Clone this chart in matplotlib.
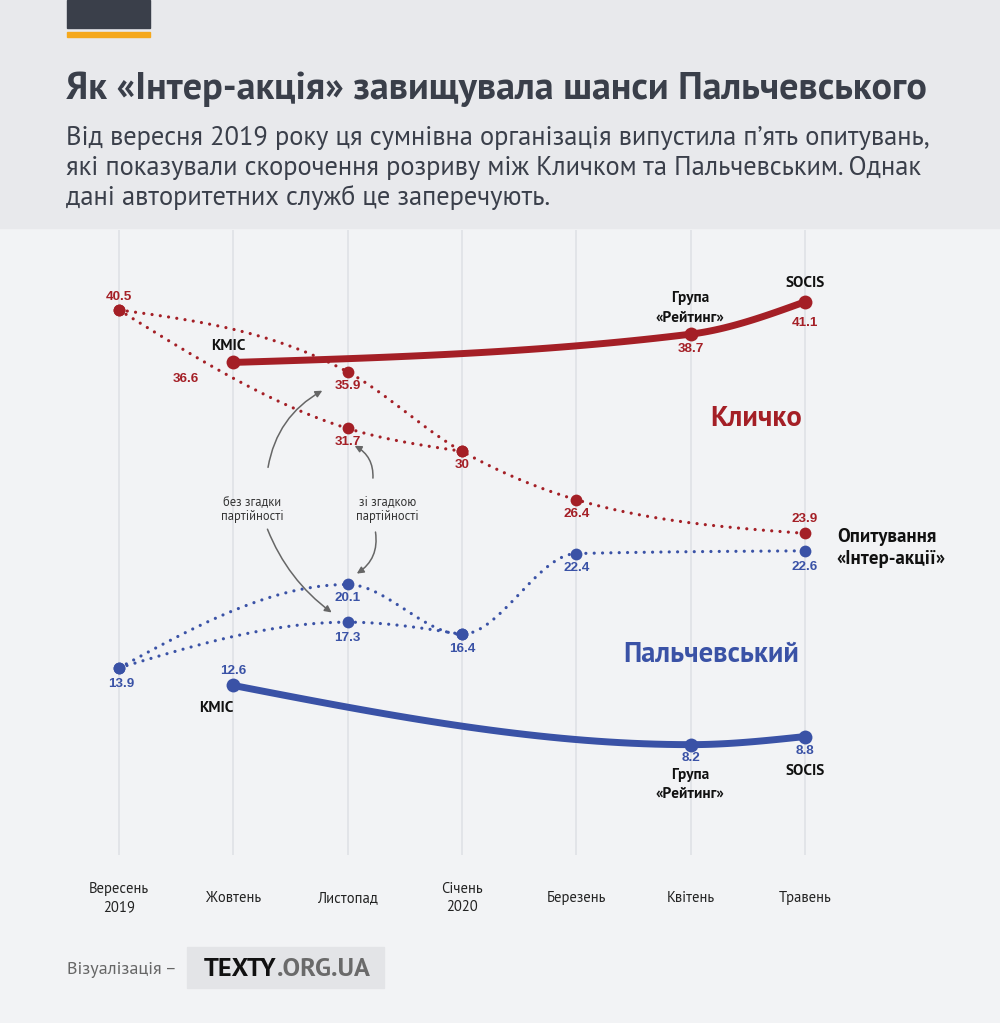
import numpy as np
import matplotlib
matplotlib.use("Agg")
import matplotlib.pyplot as plt
import matplotlib.transforms as mtransforms
from matplotlib.patches import Rectangle

# data: Kyiv mayor polls, Klitschko vs Palchevsky
months = ['Вересень\n2019', 'Жовтень', 'Листопад', 'Січень\n2020', 'Березень', 'Квітень', 'Травень']

# serious pollsters (KMIC, Rating, SOCIS) at Oct, Apr, May
pro_x = [1, 5, 6]
pro_names = ['KMIC', 'Група\n«Рейтинг»', 'SOCIS']
klych_pro = [36.6, 38.7, 41.1]
palch_pro = [12.6, 8.2, 8.8]

# Inter-action polls: Sep, Nov, Jan, Mar, May
inter_x = [0, 2, 3, 4, 6]
klych_inter = [40.5, 35.9, 30.0, 26.4, 23.9]     # Nov: without party mention
palch_inter = [13.9, 20.1, 16.4, 22.4, 22.6]     # Nov: with party mention
inter_x_alt = [0, 2, 3]
klych_inter_alt = [40.5, 31.7, 30.0]             # Nov: with party mention
palch_inter_alt = [13.9, 17.3, 16.4]             # Nov: without party mention

RED = '#a41f26'
BLUE = '#3a52a6'
DARK = '#3a3f4a'
BG = '#f2f3f5'
HEAD = '#e8e9ec'
PT = ['PT Sans', 'Open Sans', 'DejaVu Sans']


def monotone(xs, ys, n=40):
    # d3 curveMonotoneX style smoothing between the given points
    xs = np.asarray(xs, float)
    ys = np.asarray(ys, float)
    h = np.diff(xs)
    s = np.diff(ys) / h
    m = np.zeros(len(xs))
    for i in range(1, len(xs) - 1):
        p = (s[i - 1] * h[i] + s[i] * h[i - 1]) / (h[i - 1] + h[i])
        m[i] = (np.sign(s[i - 1]) + np.sign(s[i])) * min(abs(s[i - 1]), abs(s[i]), 0.5 * abs(p))
    if len(xs) > 2:
        m[0] = (3 * s[0] - m[1]) / 2
        m[-1] = (3 * s[-1] - m[-2]) / 2
    else:
        m[:] = s[0]
    px, py = [], []
    for i in range(len(xs) - 1):
        t = np.linspace(0, 1, n)
        h00 = 2 * t**3 - 3 * t**2 + 1
        h10 = t**3 - 2 * t**2 + t
        h01 = -2 * t**3 + 3 * t**2
        h11 = t**3 - t**2
        px.append(xs[i] + t * h[i])
        py.append(h00 * ys[i] + h10 * h[i] * m[i] + h01 * ys[i + 1] + h11 * h[i] * m[i + 1])
    return np.concatenate(px), np.concatenate(py)


fig = plt.figure(figsize=(10, 10.23), dpi=100)
fig.patch.set_facecolor(BG)


def fx(x):
    return x / 1000


def fy(y):
    return 1 - y / 1023


# header
fig.patches.append(Rectangle((0, fy(228)), 1, 1 - fy(228), transform=fig.transFigure,
                             color=HEAD, zorder=0))
fig.patches.append(Rectangle((fx(67), fy(28)), fx(83), 28 / 1023, transform=fig.transFigure,
                             color=DARK, zorder=1))
fig.patches.append(Rectangle((fx(67), fy(37)), fx(83), 5 / 1023, transform=fig.transFigure,
                             color='#f5a81c', zorder=1))
fig.text(fx(66), fy(89), 'Як «Інтер-акція» завищувала шанси Пальчевського',
         fontsize=27.5, fontweight='bold', color=DARK, family=PT, va='center')
subtitle = ['Від вересня 2019 року ця сумнівна організація випустила п’ять опитувань,',
            'які показували скорочення розриву між Кличком та Пальчевським. Однак',
            'дані авторитетних служб це заперечують.']
for k, line in enumerate(subtitle):
    fig.text(fx(66), fy(138 + 30 * k), line, fontsize=19.1, color=DARK, family=PT, va='center')

# plot area
ax = fig.add_axes([0, fy(855), 1, fy(230) - fy(855)])
ax.set_facecolor('none')
ax.set_xlim(-119 / 114.3, (1000 - 119) / 114.3)
ax.set_ylim(0, 46.44)
ax.axis('off')
for i in range(len(months)):
    ax.axvline(i, color='#e1e3e7', lw=1.3, zorder=0)

dot = dict(lw=2.3, linestyle=(0, (0.01, 2.6)), dash_capstyle='round')
for xs, ys, c in [(inter_x, klych_inter, RED), (inter_x_alt, klych_inter_alt, RED),
                  (inter_x, palch_inter, BLUE), (inter_x_alt, palch_inter_alt, BLUE)]:
    cx, cy = monotone(xs, ys)
    ax.plot(cx, cy, color=c, zorder=2, **dot)
    ax.plot(xs, ys, 'o', color=c, ms=8.5, mec='none', zorder=3)

for ys, c in [(klych_pro, RED), (palch_pro, BLUE)]:
    cx, cy = monotone(pro_x, ys)
    ax.plot(cx, cy, color=c, lw=5, solid_capstyle='round', zorder=4)
    ax.plot(pro_x, ys, 'o', color=c, ms=10, mec='none', zorder=5)
    ax.plot(pro_x[1], ys[1], 'o', color=c, ms=7.5, mec='none', zorder=5)


def lab(x, v, txt, dx, dy, gap=0, **kw):
    # text near a data point; offsets in pixels, dy positive = down, lines spaced by gap px
    lines = txt.split('\n')
    n = len(lines)
    for k, line in enumerate(lines):
        off = dy + (k - (n - 1) / 2) * gap
        ax.annotate(line, (x, v), xytext=(dx, -off), textcoords='offset pixels', zorder=6, **kw)


vfont = dict(family=['Liberation Sans', 'DejaVu Sans'], fontweight='bold', fontsize=9.7,
             ha='center', va='center')

# value labels
lab(0, 40.5, '40.5', 0, -13, color=RED, **vfont)
lab(2, 35.9, '35.9', 0, 14, color=RED, **vfont)
lab(2, 31.7, '31.7', 0, 14, color=RED, **vfont)
lab(3, 30.0, '30', 0, 14, color=RED, **vfont)
lab(4, 26.4, '26.4', 0, 14, color=RED, **vfont)
lab(6, 23.9, '23.9', 0, -14, color=RED, **vfont)
lab(1, 36.6, '36.6', -47, 17, color=RED, **vfont)
lab(5, 38.7, '38.7', 0, 15, color=RED, **vfont)
lab(6, 41.1, '41.1', 0, 21, color=RED, **vfont)
lab(0, 13.9, '13.9', 2, 16, color=BLUE, **vfont)
lab(2, 20.1, '20.1', 0, 14, color=BLUE, **vfont)
lab(2, 17.3, '17.3', 0, 16, color=BLUE, **vfont)
lab(3, 16.4, '16.4', 0, 15, color=BLUE, **vfont)
lab(4, 22.4, '22.4', 0, 14, color=BLUE, **vfont)
lab(6, 22.6, '22.6', 0, 16, color=BLUE, **vfont)
lab(1, 12.6, '12.6', 0, -14, color=BLUE, **vfont)
lab(5, 8.2, '8.2', 0, 13, color=BLUE, **vfont)
lab(6, 8.8, '8.8', 0, 14, color=BLUE, **vfont)

# pollster names
nfont = dict(family=PT, fontweight='bold', fontsize=11, ha='center', va='center', color='#111111')
lab(1, klych_pro[0], pro_names[0], -5, -16, **nfont)
lab(5, klych_pro[1], pro_names[1], 0, -26, gap=20, **nfont)
lab(6, klych_pro[2], pro_names[2], 0, -19, **nfont)
lab(1, palch_pro[0], pro_names[0], -17, 23, **nfont)
lab(5, palch_pro[1], pro_names[1], 0, 40, gap=19, **nfont)
lab(6, palch_pro[2], pro_names[2], 0, 34, **nfont)
lab(6, 23.25, 'Опитування\n«Інтер-акції»', 32, 6, gap=22, **{**nfont, 'ha': 'left', 'fontsize': 13.6})

ax.text(5.573, 32.4, 'Кличко', color=RED, family=PT, fontweight='bold', fontsize=20.5,
        ha='center', va='center')
ax.text(5.18, 14.87, 'Пальчевський', color=BLUE, family=PT, fontweight='bold', fontsize=20.5,
        ha='center', va='center')

# annotations for the two Nov variants
for xx, t in [(1.168, 'без згадки'), (2.35, 'зі згадкою')]:
    ax.annotate(t, (xx, 40.5 - (502 - 310) / 13.46), ha='center', va='center',
                family=PT, fontsize=9, color='#333333')
    ax.annotate('партійності', (xx, 40.5 - (517 - 310) / 13.46), ha='center', va='center',
                family=PT, fontsize=9, color='#333333')
arr = dict(arrowstyle='-|>', color='#666666', lw=1.1, mutation_scale=10)
ax.annotate('', xy=(1.80, 34.6), xytext=(1.30, 28.6),
            arrowprops=dict(connectionstyle='arc3,rad=-0.25', **arr))
ax.annotate('', xy=(1.88, 17.9), xytext=(1.29, 24.4),
            arrowprops=dict(connectionstyle='arc3,rad=0.15', **arr))
ax.annotate('', xy=(2.04, 30.5), xytext=(2.22, 27.8),
            arrowprops=dict(connectionstyle='arc3,rad=0.35', **arr))
ax.annotate('', xy=(2.06, 20.8), xytext=(2.24, 24.2),
            arrowprops=dict(connectionstyle='arc3,rad=-0.35', **arr))

# month labels
tr = mtransforms.blended_transform_factory(ax.transData, fig.transFigure)
for i, m in enumerate(months):
    parts = m.split('\n')
    for k, p in enumerate(parts):
        yy = 898 + (k - (len(parts) - 1) / 2) * 18
        ax.text(i, fy(yy), p, transform=tr, ha='center', va='center', fontsize=10.5,
                family=PT, color='#222222')

# footer
fig.text(fx(67), fy(970), 'Візуалізація –', fontsize=13, color='#666666', family=PT, va='center')
fig.patches.append(Rectangle((fx(187), fy(988)), fx(197), 41 / 1023, transform=fig.transFigure,
                             color='#e3e4e7', zorder=1))
t1 = fig.text(fx(204), fy(970), 'TEXTY', fontsize=18.9, fontweight='bold', color='#111111',
              family=PT, va='center')
fig.canvas.draw()
bb = t1.get_window_extent()
fig.text(bb.x1 / fig.bbox.width, fy(970), '.ORG.UA', fontsize=18.9, fontweight='bold', color='#6a6a6a',
         family=PT, va='center')

fig.savefig('out.png', dpi=100, facecolor=fig.get_facecolor())
